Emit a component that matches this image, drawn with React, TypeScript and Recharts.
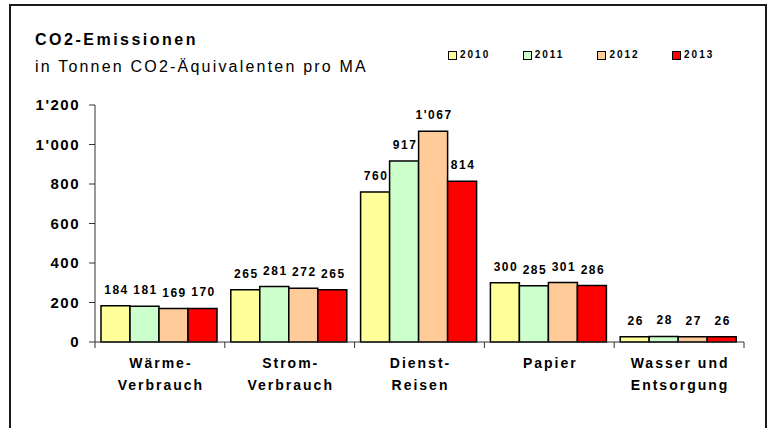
import { Bar, BarChart, LabelList, Legend, XAxis, YAxis } from 'recharts'

const categories = ['Wärme-Verbrauch', 'Strom-Verbrauch', 'Dienst-Reisen', 'Papier', 'Wasser und Entsorgung']
const categoryLines = [
  ['Wärme-', 'Verbrauch'],
  ['Strom-', 'Verbrauch'],
  ['Dienst-', 'Reisen'],
  ['Papier'],
  ['Wasser und', 'Entsorgung'],
]
const years = ['2010', '2011', '2012', '2013']
const values2010 = [184, 265, 760, 300, 26]
const values2011 = [181, 281, 917, 285, 28]
const values2012 = [169, 272, 1067, 301, 27]
const values2013 = [170, 265, 814, 286, 26]
const yTicks = [0, 200, 400, 600, 800, 1000, 1200]
const colors = ['#FFFF99', '#CCFFCC', '#FFCC99', '#FF0000']

const title = 'CO2-Emissionen'
const subtitle = 'in Tonnen CO2-Äquivalenten pro MA'

const FONT = '"Liberation Sans", Arial, sans-serif'
const WIDTH = 769
const HEIGHT = 428
const PLOT_LEFT = 95
const PLOT_RIGHT = 744
const BAND = (PLOT_RIGHT - PLOT_LEFT) / categories.length

const data = categories.map((name, i) => ({
  name,
  y2010: values2010[i],
  y2011: values2011[i],
  y2012: values2012[i],
  y2013: values2013[i],
}))

function formatSwiss(value: number) {
  return String(value).replace(/\B(?=(\d{3})+(?!\d))/g, "'")
}

function CategoryTick(props: any) {
  const { x, y, index } = props
  const lines = categoryLines[index] ?? []
  return (
    <g>
      <line x1={x - BAND / 2} x2={x - BAND / 2} y1={y} y2={y + 6} stroke="#333" />
      {index === categories.length - 1 && (
        <line x1={x + BAND / 2} x2={x + BAND / 2} y1={y} y2={y + 6} stroke="#333" />
      )}
      {lines.map((line, i) => (
        <text
          key={line}
          x={x + 1}
          y={y + 26 + i * 22}
          textAnchor="middle"
          fontFamily={FONT}
          fontWeight="bold"
          fontSize={14}
          letterSpacing={2}
          fill="#000"
        >
          {line}
        </text>
      ))}
    </g>
  )
}

function ValueLabel(props: any) {
  const { x, y, width, value } = props
  return (
    <text
      x={x + width / 2 + 1}
      y={y - 12}
      textAnchor="middle"
      fontFamily={FONT}
      fontWeight="bold"
      fontSize={12}
      letterSpacing={1.5}
      fill="#000"
    >
      {formatSwiss(value)}
    </text>
  )
}

function LegendContent() {
  return (
    <div style={{ display: 'flex', fontFamily: FONT }}>
      {years.map((year, i) => (
        <div key={year} style={{ display: 'flex', alignItems: 'center', width: 74.7 }}>
          <span
            style={{
              display: 'inline-block',
              width: 7,
              height: 7,
              background: colors[i],
              border: '1px solid #000',
              marginRight: 3,
            }}
          />
          <span style={{ fontSize: 10, fontWeight: 'bold', letterSpacing: 2, lineHeight: '10px' }}>
            {year}
          </span>
        </div>
      ))}
    </div>
  )
}

export default function App() {
  return (
    <div
      style={{
        position: 'absolute',
        left: 0,
        top: 0,
        width: WIDTH,
        height: HEIGHT,
        overflow: 'hidden',
        background: '#fff',
      }}
    >
      <div
        style={{
          position: 'absolute',
          left: 9,
          top: 4,
          width: 758,
          height: 500,
          border: '2px solid #1a1a1a',
          boxSizing: 'border-box',
        }}
      />
      <svg
        width={WIDTH}
        height={HEIGHT}
        style={{ position: 'absolute', left: 0, top: 0, pointerEvents: 'none' }}
      >
        <text x={35} y={45} fontFamily={FONT} fontWeight="bold" fontSize={16} letterSpacing={2.5} fill="#000">
          {title}
        </text>
        <text x={35} y={72} fontFamily={FONT} fontSize={16} letterSpacing={2.2} fill="#000">
          {subtitle}
        </text>
      </svg>
      <div style={{ position: 'absolute', left: 0, top: 0 }}>
        <BarChart
          width={WIDTH}
          height={HEIGHT}
          data={data}
          margin={{ top: 105, right: WIDTH - PLOT_RIGHT, bottom: 36, left: 0 }}
          barCategoryGap={6}
          barGap={0}
        >
          <XAxis
            dataKey="name"
            height={50}
            axisLine={{ stroke: '#333' }}
            tickLine={false}
            tickSize={0}
            tickMargin={0}
            interval={0}
            tick={<CategoryTick />}
          />
          <YAxis
            width={PLOT_LEFT}
            domain={[0, 1200]}
            ticks={yTicks}
            interval={0}
            axisLine={{ stroke: '#333' }}
            tickLine={{ stroke: '#333' }}
            tickSize={6}
            tickMargin={9}
            tickFormatter={(v: number) => formatSwiss(v)}
            tick={{
              fontFamily: FONT,
              fontWeight: 'bold',
              fontSize: 15,
              letterSpacing: 1.5,
              fill: '#000',
            }}
          />
          <Legend
            layout="horizontal"
            verticalAlign="middle"
            align="center"
            wrapperStyle={{ top: 50, left: 448, width: 310, height: 12 }}
            content={<LegendContent />}
          />
          {years.map((year, i) => (
            <Bar
              key={year}
              dataKey={`y${year}`}
              name={year}
              fill={colors[i]}
              stroke="#000"
              strokeWidth={1.5}
              isAnimationActive={false}
            >
              <LabelList dataKey={`y${year}`} content={<ValueLabel />} />
            </Bar>
          ))}
        </BarChart>
      </div>
    </div>
  )
}
